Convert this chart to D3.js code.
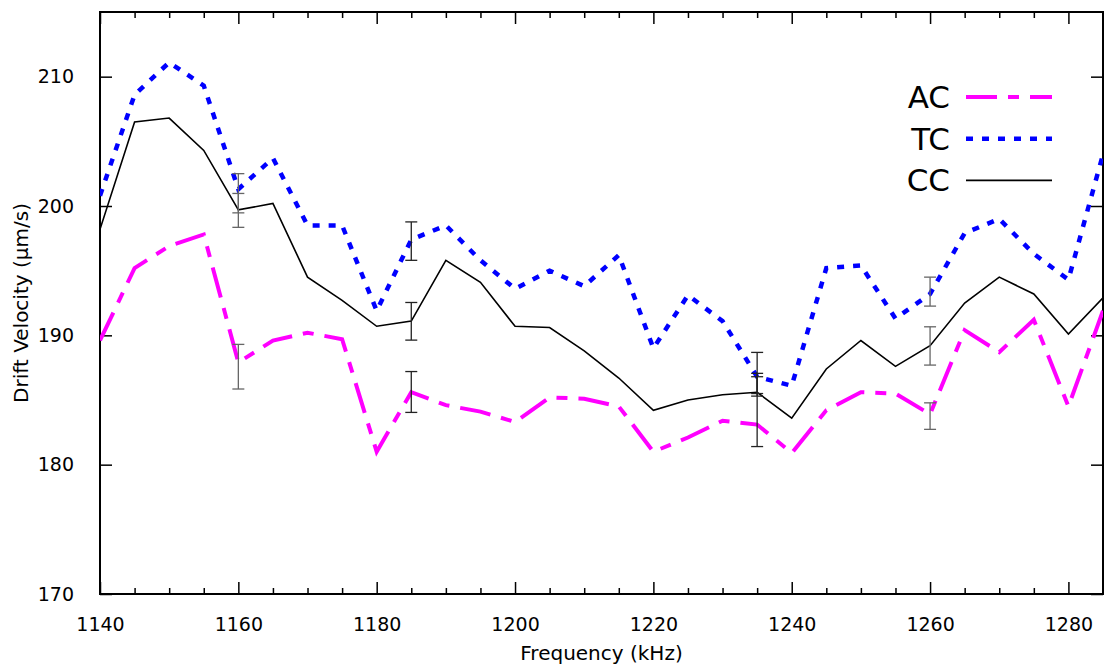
<!DOCTYPE html>
<meta charset="utf-8">
<style>
body{
    margin: 0;
    background: #fff;
    font-family: "DejaVu Sans", Verdana, sans-serif;
}
.tick text { font-size: 19px; fill: #000; }
</style>
<body>
<div id="chart"></div>
<script src="https://d3js.org/d3.v7.min.js"></script>
<script>

// frequency in kHz, one point every 5 kHz
var freq = [1140,1145,1150,1155,1160,1165,1170,1175,1180,1185,1190,1195,1200,1205,1210,
            1215,1220,1225,1230,1235,1240,1245,1250,1255,1260,1265,1270,1275,1280,1285];

var acVals = [189.6,195.2,196.9,197.8,187.9,189.6,190.2,189.7,181.0,185.6,184.6,184.1,183.3,185.2,185.1,
              184.5,181.0,182.1,183.4,183.1,180.9,184.2,185.6,185.5,183.9,190.4,188.7,191.2,184.5,191.9];
var tcVals = [200.8,208.6,211.1,209.3,201.3,203.7,198.5,198.5,191.9,197.4,198.5,195.8,193.6,195.0,193.8,
              196.2,189.0,193.1,191.1,186.8,186.1,195.2,195.4,191.3,193.2,197.9,199.0,196.3,194.3,204.0];
var ccVals = [198.2,206.5,206.8,204.3,199.7,200.2,194.5,192.7,190.7,191.1,195.8,194.1,190.7,190.6,188.8,
              186.7,184.2,185.0,185.4,185.6,183.6,187.4,189.6,187.6,189.2,192.5,194.5,193.2,190.1,192.9];

// error bars (low / high) at a few frequencies
var errFreq = [1160, 1185, 1235, 1260];
var acLo = [185.85, 184.04, 181.4, 182.73], acHi = [189.3, 187.2, 186.8, 184.78];
var tcLo = [199.47, 195.8, 185.3, 192.26], tcHi = [202.5, 198.77, 188.68, 194.5];
var ccLo = [198.35, 189.63, 185.5, 187.7], ccHi = [200.97, 192.54, 187.06, 190.66];

var xTicks = [1140,1160,1180,1200,1220,1240,1260,1280];
var yTicks = [170,180,190,200,210];
var seriesNames = ["AC", "TC", "CC"];

var margin = {top: 12, right: 3, bottom: 77, left: 100},
    width = 1106 - margin.left - margin.right,
    height = 671 - margin.top - margin.bottom;

var svg = d3.select("#chart")
  .append("svg")
    .attr("width", 1106)
    .attr("height", 671)
  .append("g")
    .attr("transform", "translate(" + margin.left + "," + margin.top + ")");

var x = d3.scaleLinear().domain([1140, 1285]).range([0, width]);
var y = d3.scaleLinear().domain([170, 215]).range([height, 0]);

svg.append("clipPath").attr("id", "clip")
  .append("rect").attr("width", width).attr("height", height);

// minor x ticks (every 5), major every 20
var minorX = d3.range(1145, 1285, 5).filter(function(d){ return xTicks.indexOf(d) < 0; });

function tickGroup(sel) {
  sel.selectAll("path.domain").remove();
  sel.selectAll("line").attr("stroke", "#000").attr("stroke-width", 1.5);
}

svg.append("g")
    .attr("transform", "translate(0," + height + ")")
    .call(d3.axisBottom(x).tickValues(xTicks).tickSize(-12).tickPadding(24).tickFormat(d3.format("d")))
    .call(tickGroup);
svg.append("g")
    .attr("transform", "translate(0," + height + ")")
    .call(d3.axisBottom(x).tickValues(minorX).tickSize(-6).tickFormat(""))
    .call(tickGroup);
svg.append("g")
    .call(d3.axisTop(x).tickValues(xTicks).tickSize(-12).tickFormat(""))
    .call(tickGroup);
svg.append("g")
    .call(d3.axisTop(x).tickValues(minorX).tickSize(-6).tickFormat(""))
    .call(tickGroup);
svg.append("g")
    .call(d3.axisLeft(y).tickValues(yTicks).tickSize(-12).tickPadding(26))
    .call(tickGroup);
svg.append("g")
    .attr("transform", "translate(" + width + ",0)")
    .call(d3.axisRight(y).tickValues(yTicks).tickSize(-12).tickFormat(""))
    .call(tickGroup);

svg.selectAll(".tick text").style("font-family", "'DejaVu Sans', Verdana, sans-serif");

// frame
svg.append("rect")
    .attr("width", width).attr("height", height)
    .attr("fill", "none").attr("stroke", "#000").attr("stroke-width", 2);

var series = [
  {name: "AC", vals: acVals, color: "#ff00ff", width: 4, dash: "31,11,11,11"},
  {name: "TC", vals: tcVals, color: "#0000ff", width: 4.5, dash: "7,9"},
  {name: "CC", vals: ccVals, color: "#000000", width: 1.6, dash: null}
];

var line = d3.line()
    .x(function(d){ return x(d[0]); })
    .y(function(d){ return y(d[1]); });

var plot = svg.append("g").attr("clip-path", "url(#clip)");

series.forEach(function(s){
  plot.append("path")
      .datum(freq.map(function(f, i){ return [f, s.vals[i]]; }))
      .attr("fill", "none")
      .attr("stroke", s.color)
      .attr("stroke-width", s.width)
      .attr("stroke-dasharray", s.dash)
      .attr("stroke-linejoin", "miter")
      .attr("d", line);
});

// error bars
var errs = [];
errFreq.forEach(function(f, i){
  errs.push({f: f, lo: acLo[i], hi: acHi[i]});
  errs.push({f: f, lo: tcLo[i], hi: tcHi[i]});
  errs.push({f: f, lo: ccLo[i], hi: ccHi[i]});
});

var eb = svg.append("g").selectAll("g").data(errs).enter().append("g")
    .attr("stroke", function(d){ return (d.f == 1160 || d.f == 1260) ? "#666" : "#222"; })
    .attr("stroke-width", 1.3);
eb.append("line")
    .attr("x1", function(d){ return x(d.f); }).attr("x2", function(d){ return x(d.f); })
    .attr("y1", function(d){ return y(d.lo); }).attr("y2", function(d){ return y(d.hi); });
eb.append("line")
    .attr("x1", function(d){ return x(d.f) - 6; }).attr("x2", function(d){ return x(d.f) + 6; })
    .attr("y1", function(d){ return y(d.lo); }).attr("y2", function(d){ return y(d.lo); });
eb.append("line")
    .attr("x1", function(d){ return x(d.f) - 6; }).attr("x2", function(d){ return x(d.f) + 6; })
    .attr("y1", function(d){ return y(d.hi); }).attr("y2", function(d){ return y(d.hi); });

// legend
var legend = svg.append("g").attr("transform", "translate(850,85)");
series.forEach(function(s, i){
  var g = legend.append("g").attr("transform", "translate(0," + (i * 41.7) + ")");
  g.append("text")
      .attr("x", 0).attr("y", 11)
      .attr("text-anchor", "end")
      .style("font-size", "31px")
      .text(s.name);
  g.append("line")
      .attr("x1", 16).attr("x2", 102)
      .attr("stroke", s.color)
      .attr("stroke-width", s.width)
      .attr("stroke-dasharray", s.dash);
});

// axis titles
svg.append("text")
    .attr("x", width / 2).attr("y", height + 66)
    .attr("text-anchor", "middle")
    .style("font-size", "20px")
    .text("Frequency (kHz)");

svg.append("text")
    .attr("transform", "translate(-72," + (height / 2) + ") rotate(-90)")
    .attr("text-anchor", "middle")
    .style("font-size", "20px")
    .text("Drift Velocity (μm/s)");

</script>
</body>
